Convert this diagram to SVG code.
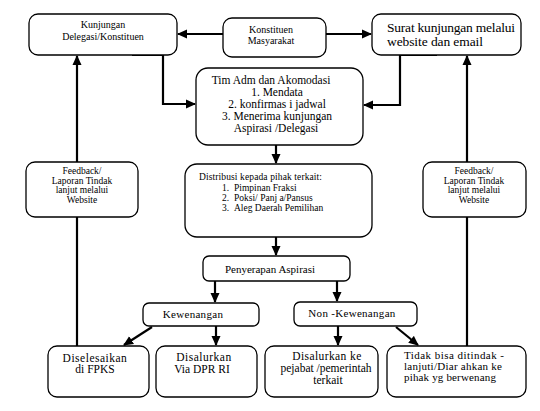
<svg xmlns="http://www.w3.org/2000/svg" width="540" height="411" viewBox="0 0 540 411" font-family="'Liberation Serif', 'Times New Roman', 'DejaVu Serif', serif">
<defs>
<marker id="ah" markerUnits="userSpaceOnUse" markerWidth="10" markerHeight="10" viewBox="0 0 10 10" refX="9" refY="5" orient="auto">
<path d="M0,0.5 L10,5 L0,9.5 Z" fill="#000"/>
</marker>
<style>
.box{fill:#fff;stroke:#000;stroke-width:1.3}
text{fill:#000}
.c{text-anchor:middle}
.con{fill:none;stroke:#000;stroke-width:2.2}
</style>
</defs>
<rect width="540" height="411" fill="#fff"/>
<g id="connectors">
<path class="con" d="M223,34 H178" marker-end="url(#ah)"/>
<path class="con" d="M326,34 H371" marker-end="url(#ah)"/>
<path class="con" d="M132,55 H163 V104 H195" marker-end="url(#ah)"/>
<path class="con" d="M437,55 H400 V105 H364" marker-end="url(#ah)"/>
<path class="con" d="M276,145 V163" marker-end="url(#ah)"/>
<path class="con" d="M276,237 V255" marker-end="url(#ah)"/>
<path class="con" d="M215,281 V302" marker-end="url(#ah)"/>
<path class="con" d="M337,281 V301" marker-end="url(#ah)"/>
<path class="con" d="M152,327 L124,345" marker-end="url(#ah)"/>
<path class="con" d="M216,326 V345" marker-end="url(#ah)"/>
<path class="con" d="M338,326 V345" marker-end="url(#ah)"/>
<path class="con" d="M396,327 L418,345" marker-end="url(#ah)"/>
<path class="con" d="M77,346 V217"/>
<path class="con" d="M77,162 V56" marker-end="url(#ah)"/>
<path class="con" d="M467,346 V217"/>
<path class="con" d="M467,162 V56" marker-end="url(#ah)"/>
</g>
<g id="kunjungan">
<rect class="box" x="29" y="14" width="148" height="41" rx="9"/>
<text class="c" x="103" y="28" font-size="10">Kunjungan</text>
<text class="c" x="103" y="40" font-size="10">Delegasi/Konstituen</text>
</g>
<g id="konstituen">
<rect class="box" x="223" y="18" width="103" height="39" rx="9"/>
<text class="c" x="271" y="33" font-size="10">Konstituen</text>
<text class="c" x="271" y="44" font-size="10">Masyarakat</text>
</g>
<g id="surat">
<rect class="box" x="372" y="14" width="149" height="41" rx="9"/>
<text x="387" y="32" font-size="13.5" textLength="128">Surat kunjungan melalui</text>
<text x="387" y="46" font-size="13.5" textLength="96">website dan email</text>
</g>
<g id="timadm">
<rect class="box" x="196" y="68" width="167" height="77" rx="12"/>
<text class="c" x="271" y="84" font-size="11.5">Tim Adm dan  Akomodasi</text>
<text class="c" x="277" y="96" font-size="11.5">1. Mendata</text>
<text class="c" x="277" y="108" font-size="11.5">2. konfirmas i jadwal</text>
<text class="c" x="277" y="120" font-size="11.5">3. Menerima   kunjungan</text>
<text class="c" x="276" y="132" font-size="11.5">Aspirasi /Delegasi</text>
</g>
<g id="distribusi">
<rect class="box" x="185" y="164" width="187" height="73" rx="12"/>
<text x="199" y="180" font-size="9.5" textLength="123">Distribusi kepada pihak terkait:</text>
<text x="222" y="191" font-size="9.5">1.</text>
<text x="234" y="191" font-size="9.5">Pimpinan Fraksi</text>
<text x="222" y="201" font-size="9.5">2.</text>
<text x="234" y="201" font-size="9.5">Poksi/ Panj a/Pansus</text>
<text x="222" y="211" font-size="9.5">3.</text>
<text x="234" y="211" font-size="9.5">Aleg Daerah Pemilihan</text>
</g>
<g id="penyerapan">
<rect class="box" x="203" y="256" width="147" height="25" rx="6"/>
<text class="c" x="270" y="273" font-size="11">Penyerapan Aspirasi</text>
</g>
<g id="kewenangan">
<rect class="box" x="143" y="303" width="116" height="23" rx="6"/>
<text class="c" x="193" y="318" font-size="11" letter-spacing="0.3">Kewenangan</text>
</g>
<g id="nonkewenangan">
<rect class="box" x="294" y="302" width="123" height="24" rx="6"/>
<text class="c" x="352" y="317" font-size="11" letter-spacing="0.3">Non -Kewenangan</text>
</g>
<g id="diselesaikan">
<rect class="box" x="48" y="346" width="101" height="51" rx="9"/>
<text class="c" x="95" y="362" font-size="11.5" letter-spacing="0.5">Diselesaikan</text>
<text class="c" x="95" y="373" font-size="11.5">di FPKS</text>
</g>
<g id="dpr">
<rect class="box" x="156" y="346" width="101" height="51" rx="9"/>
<text class="c" x="204" y="361" font-size="11.5" letter-spacing="0.5">Disalurkan</text>
<text class="c" x="202" y="373" font-size="11.5">Via DPR RI</text>
</g>
<g id="pejabat">
<rect class="box" x="265" y="346" width="113" height="51" rx="9"/>
<text class="c" x="327" y="360" font-size="11.5" letter-spacing="0.4">Disalurkan   ke</text>
<text class="c" x="326" y="372" font-size="11.5">pejabat /pemerintah</text>
<text class="c" x="328" y="384" font-size="11.5">terkait</text>
</g>
<g id="tidakbisa">
<rect class="box" x="387" y="346" width="139" height="51" rx="9"/>
<text x="404" y="359" font-size="11" textLength="100">Tidak bisa ditindak   -</text>
<text x="404" y="370" font-size="11" textLength="98">lanjuti/Diar ahkan ke</text>
<text x="404" y="381" font-size="11" textLength="92">pihak yg berwenang</text>
</g>
<g id="feedback-kiri">
<rect class="box" x="26" y="162" width="112" height="55" rx="9"/>
<text class="c" x="82" y="174" font-size="9.5">Feedback/</text>
<text class="c" x="82" y="184" font-size="9.5">Laporan  Tindak</text>
<text class="c" x="82" y="193" font-size="9.5">lanjut melalui</text>
<text class="c" x="82" y="203" font-size="9.5">Website</text>
</g>
<g id="feedback-kanan">
<rect class="box" x="423" y="162" width="103" height="55" rx="9"/>
<text class="c" x="474" y="174" font-size="9.5">Feedback/</text>
<text class="c" x="474" y="184" font-size="9.5">Laporan  Tindak</text>
<text class="c" x="474" y="193" font-size="9.5">lanjut melalui</text>
<text class="c" x="474" y="203" font-size="9.5">Website</text>
</g>
</svg>
